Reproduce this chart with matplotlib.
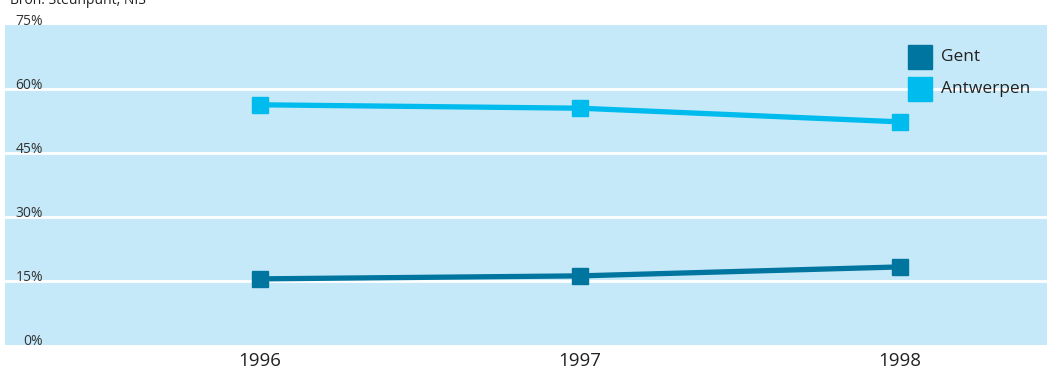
import matplotlib
matplotlib.use("Agg")
import matplotlib.pyplot as plt
from matplotlib.patches import Rectangle

years = [1996, 1997, 1998]
gent = [15.5, 16.2, 18.3]
antwerpen = [56.3, 55.5, 52.3]
yticks = [0, 15, 30, 45, 60, 75]
ytick_labels = ["0%", "15%", "30%", "45%", "60%", "75%"]

plt.rcParams['font.family'] = ['Open Sans', 'DejaVu Sans']
c_gent = "#00759F"
c_antw = "#00BBEE"
bg = "#C6E9F9"

fig = plt.figure(figsize=(10.47, 3.73), dpi=100)
ax = fig.add_axes([5/1047, 28/373, 1042/1047, 320/373])
ax.set_facecolor(bg)
ax.set_xlim(1996 - 255/320, 1998 + 147/320)
ax.set_ylim(0, 75)
for s in ax.spines.values():
    s.set_visible(False)
for y in yticks[1:-1]:
    ax.axhline(y, color="white", lw=2.0, zorder=1)
ax.set_yticks([])
ax.set_xticks(years)
ax.set_xticklabels([str(y) for y in years], fontsize=13.5, color="#222222")
ax.tick_params(axis="x", length=0, pad=5)

ax.plot(years, antwerpen, color=c_antw, lw=3.8, marker="s", markersize=12, zorder=3, clip_on=False)
ax.plot(years, gent, color=c_gent, lw=3.8, marker="s", markersize=12, zorder=3, clip_on=False)

for y, lab in zip(yticks, ytick_labels):
    ax.text(1996 - 217/320, y - 0.9, lab, fontsize=10, color="#333333", ha="right", va="bottom", clip_on=False)

# legend
for i, (lab, c) in enumerate([("Gent", c_gent), ("Antwerpen", c_antw)]):
    ytop = 45 + i * 32
    fig.patches.append(Rectangle((908/1047, 1 - (ytop + 24)/373), 24/1047, 24/373,
                                 transform=fig.transFigure, color=c, zorder=5))
    fig.text(941/1047, 1 - (ytop + 12)/373, lab, fontsize=12.5, color="#222222", va="center", ha="left")

fig.text(10/1047, 1 - 4/373, "Bron: Steunpunt, NIS", fontsize=10, color="#222222", va="baseline", ha="left")

fig.savefig("out.png", dpi=100)
